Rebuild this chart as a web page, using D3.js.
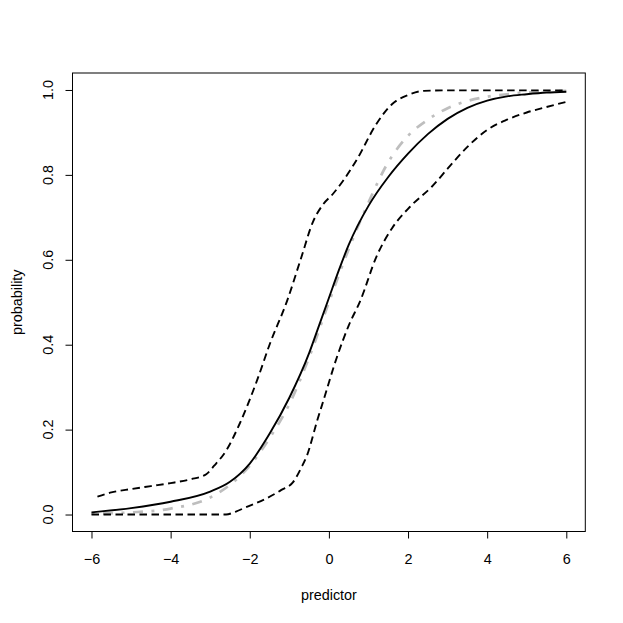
<!DOCTYPE html>
<html>
<head>
<meta charset="utf-8">
<script src="https://cdn.jsdelivr.net/npm/d3@7"></script>
<style>
  html, body { margin: 0; padding: 0; background: #fff; }
  svg { display: block; }
  text { font-family: "Liberation Sans", Arial, Helvetica, sans-serif; fill: #000; }
</style>
</head>
<body>
<svg id="chart" width="623" height="623"></svg>
<script>
// ---- data ----
const xTicks = [-6, -4, -2, 0, 2, 4, 6];
const yTicks = [0, 0.2, 0.4, 0.6, 0.8, 1.0];
const xLabel = "predictor";
const yLabel = "probability";

// fitted probability (solid black)
const fitX = [-6, -5, -4, -3, -2.5, -2, -1.5, -1, -0.5, -0.25, 0, 0.25, 0.5, 1, 1.5, 2, 2.5, 3, 3.5, 4, 4.5, 5, 5.5, 6];
const fitP = [0.005, 0.015, 0.030, 0.054, 0.077, 0.12, 0.19, 0.275, 0.38, 0.445, 0.51, 0.575, 0.635, 0.727, 0.795, 0.85, 0.896, 0.932, 0.958, 0.975, 0.985, 0.990, 0.994, 0.996];

// true probability (grey dot-dash)
const trueX = [-6, -5, -4, -3, -2.5, -2, -1.5, -1, -0.5, 0, 0.5, 1, 1.5, 2, 2.5, 3, 3.5, 4, 4.5, 5, 5.5, 6];
const trueP = [0.002, 0.005, 0.014, 0.04, 0.07, 0.115, 0.18, 0.26, 0.37, 0.50, 0.625, 0.735, 0.83, 0.892, 0.93, 0.957, 0.974, 0.984, 0.99, 0.994, 0.996, 0.998];

// upper band (dashed)
const upperX = [-5.85, -5.5, -5, -4.5, -4, -3.5, -3.1, -2.9, -2.6, -2.25, -1.8, -1.5, -1.05, -0.7, -0.4, -0.15, 0.1, 0.35, 0.7, 1.2, 1.6, 2.0, 2.4, 3, 4, 5, 6];
const upperP = [0.042, 0.052, 0.06, 0.067, 0.074, 0.083, 0.095, 0.115, 0.15, 0.215, 0.32, 0.40, 0.505, 0.605, 0.69, 0.73, 0.755, 0.785, 0.835, 0.92, 0.967, 0.988, 0.998, 0.999, 0.999, 0.999, 0.999];

// lower band (dashed)
const lowerX = [-6, -5, -4, -3, -2.6, -2.35, -2.1, -1.6, -1.2, -0.9, -0.7, -0.55, -0.3, -0.15, 0.2, 0.5, 0.8, 1.2, 1.6, 2.05, 2.6, 3.05, 3.5, 4.0, 4.5, 5.0, 5.5, 6];
const lowerP = [0.0, 0.0, 0.0, 0.0, 0.0, 0.007, 0.017, 0.037, 0.058, 0.077, 0.11, 0.14, 0.22, 0.265, 0.37, 0.445, 0.505, 0.607, 0.675, 0.725, 0.772, 0.82, 0.866, 0.906, 0.93, 0.947, 0.96, 0.972];

// ---- layout ----
const svg = d3.select("#chart");
const mLeft = 72.5, mRight = 585.3, mTop = 73, mBottom = 531.5;
const fontSize = 14.4;

const x = d3.scaleLinear().domain([-6.48, 6.48]).range([mLeft, mRight]);
const y = d3.scaleLinear().domain([-0.04, 1.04]).range([mBottom, mTop]);

const line = d3.line().x(d => x(d[0])).y(d => y(d[1])).curve(d3.curveMonotoneX);
const zip = (a, b) => a.map((v, i) => [v, b[i]]);

const g = svg.append("g");

// grey true curve
g.append("path")
  .attr("d", line(zip(trueX, trueP)))
  .attr("fill", "none")
  .attr("stroke", "#bebebe")
  .attr("stroke-width", 2.7)
  .attr("stroke-dasharray", "3,8.5,10,8.5");

// bands
[[upperX, upperP], [lowerX, lowerP]].forEach(([xs, ps]) => {
  g.append("path")
    .attr("d", line(zip(xs, ps)))
    .attr("fill", "none")
    .attr("stroke", "#000")
    .attr("stroke-width", 1.9)
    .attr("stroke-dasharray", "7.5,4.5");
});

// fitted curve
g.append("path")
  .attr("d", line(zip(fitX, fitP)))
  .attr("fill", "none")
  .attr("stroke", "#000")
  .attr("stroke-width", 1.9);

// box
svg.append("rect")
  .attr("x", mLeft).attr("y", mTop)
  .attr("width", mRight - mLeft).attr("height", mBottom - mTop)
  .attr("fill", "none").attr("stroke", "#000").attr("stroke-width", 1);

// x axis
const xAxis = d3.axisBottom(x).tickValues(xTicks).tickSize(7).tickPadding(15.3)
  .tickFormat(d3.format("d"));
const xg = svg.append("g").attr("transform", `translate(0,${mBottom})`).call(xAxis);
xg.select(".domain").remove();
xg.selectAll("line").attr("stroke", "#000");
xg.selectAll("text").attr("font-size", fontSize).attr("font-family", "Liberation Sans, Arial, sans-serif").attr("fill", "#000");

// y axis
const yAxis = d3.axisLeft(y).tickValues(yTicks).tickSize(7).tickFormat("");
const yg = svg.append("g").attr("transform", `translate(${mLeft},0)`).call(yAxis);
yg.select(".domain").remove();
yg.selectAll("line").attr("stroke", "#000");

svg.append("g").selectAll("text").data(yTicks).join("text")
  .attr("transform", d => `translate(52.5,${y(d)}) rotate(-90)`)
  .attr("text-anchor", "middle")
  .attr("font-size", fontSize)
  .text(d => d3.format(".1f")(d));

// axis titles
svg.append("text")
  .attr("x", (mLeft + mRight) / 2).attr("y", 600)
  .attr("text-anchor", "middle").attr("font-size", fontSize)
  .text(xLabel);

svg.append("text")
  .attr("transform", `translate(21.5,${(mTop + mBottom) / 2}) rotate(-90)`)
  .attr("text-anchor", "middle").attr("font-size", fontSize)
  .text(yLabel);
</script>
</body>
</html>
